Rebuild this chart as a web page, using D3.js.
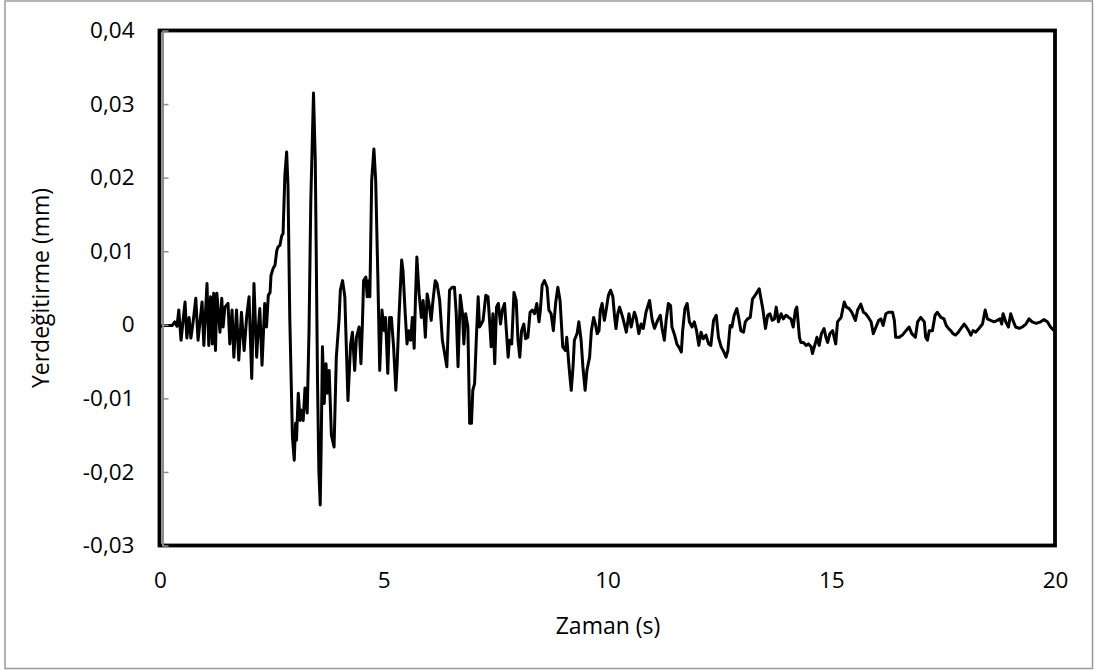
<!DOCTYPE html>
<html>
<head>
<meta charset="utf-8">
<script src="https://cdn.jsdelivr.net/npm/d3@7/dist/d3.min.js"></script>
<style>
  html, body { margin: 0; padding: 0; background: #fff; }
  svg { display: block; }
</style>
</head>
<body>
<svg id="chart" width="1094" height="670"></svg>
<script>
// Time (s)
const zaman = [
  0.00,0.11,0.27,0.33,0.38,0.42,0.47,0.56,0.60,0.65,
  0.69,0.74,0.80,0.85,0.94,0.98,1.05,1.09,1.13,1.17,
  1.20,1.24,1.27,1.34,1.38,1.41,1.45,1.52,1.56,1.61,
  1.65,1.71,1.76,1.82,1.88,1.94,1.99,2.05,2.10,2.16,
  2.19,2.23,2.28,2.34,2.38,2.42,2.46,2.48,2.53,2.57,
  2.61,2.64,2.68,2.72,2.75,2.79,2.83,2.86,2.90,2.96,
  3.00,3.03,3.05,3.09,3.13,3.16,3.20,3.24,3.29,3.33,
  3.37,3.43,3.47,3.52,3.55,3.58,3.60,3.63,3.67,3.71,
  3.74,3.78,3.83,3.89,3.94,4.00,4.03,4.08,4.13,4.20,
  4.26,4.30,4.35,4.39,4.45,4.49,4.52,4.55,4.60,4.63,
  4.66,4.69,4.73,4.78,4.82,4.87,4.91,4.96,5.01,5.04,
  5.09,5.13,5.17,5.22,5.27,5.30,5.34,5.40,5.43,5.48,
  5.52,5.56,5.60,5.64,5.68,5.71,5.74,5.79,5.84,5.88,
  5.93,5.97,6.01,6.06,6.10,6.15,6.19,6.25,6.31,6.36,
  6.41,6.47,6.53,6.58,6.62,6.66,6.71,6.76,6.79,6.83,
  6.88,6.92,6.96,6.99,7.03,7.07,7.11,7.14,7.18,7.22,
  7.28,7.33,7.37,7.40,7.44,7.48,7.52,7.56,7.61,7.65,
  7.70,7.74,7.78,7.81,7.86,7.91,7.96,8.00,8.04,8.08,
  8.13,8.17,8.22,8.27,8.32,8.37,8.42,8.47,8.50,8.54,
  8.59,8.65,8.69,8.74,8.79,8.84,8.89,8.94,9.00,9.06,
  9.09,9.14,9.19,9.23,9.26,9.32,9.36,9.41,9.45,9.50,
  9.54,9.60,9.64,9.69,9.73,9.77,9.81,9.84,9.88,9.93,
  9.97,10.02,10.07,10.12,10.16,10.19,10.23,10.27,10.34,10.42,
  10.48,10.53,10.60,10.64,10.70,10.75,10.80,10.86,10.94,11.00,
  11.05,11.12,11.18,11.22,11.27,11.31,11.36,11.41,11.44,11.50,
  11.55,11.61,11.65,11.68,11.73,11.78,11.83,11.89,11.94,11.99,
  12.04,12.09,12.14,12.20,12.26,12.31,12.37,12.43,12.48,12.54,
  12.60,12.65,12.69,12.74,12.78,12.83,12.89,12.93,12.98,13.04,
  13.08,13.13,13.19,13.24,13.32,13.39,13.43,13.47,13.53,13.58,
  13.63,13.68,13.73,13.77,13.82,13.88,13.93,13.99,14.05,14.10,
  14.15,14.20,14.23,14.29,14.32,14.38,14.44,14.49,14.55,14.58,
  14.64,14.68,14.73,14.78,14.84,14.88,14.92,14.97,15.03,15.10,
  15.14,15.22,15.29,15.34,15.40,15.46,15.54,15.59,15.66,15.72,
  15.77,15.83,15.89,15.94,16.00,16.06,16.11,16.16,16.22,16.28,
  16.37,16.41,16.44,16.52,16.59,16.67,16.74,16.80,16.88,16.93,
  17.00,17.08,17.11,17.15,17.19,17.26,17.32,17.37,17.45,17.52,
  17.57,17.62,17.67,17.72,17.78,17.84,17.90,17.97,18.02,18.07,
  18.12,18.17,18.23,18.30,18.38,18.44,18.49,18.56,18.64,18.71,
  18.77,18.81,18.84,18.90,18.96,19.01,19.06,19.12,19.20,19.27,
  19.35,19.42,19.49,19.58,19.68,19.75,19.83,19.90,19.98
];

// Displacement (mm)
const yerdegistirme = [
  -0.0002,-0.0001,-0.0001,0.0004,-0.0002,0.0020,-0.0021,0.0031,-0.0018,0.0010,
  -0.0018,0.0004,0.0036,-0.0021,0.0031,-0.0028,0.0056,-0.0028,0.0038,-0.0026,
  0.0043,-0.0035,0.0043,-0.0010,0.0036,-0.0003,0.0024,0.0029,-0.0026,0.0020,
  -0.0044,0.0020,-0.0048,0.0017,-0.0035,0.0013,0.0038,-0.0073,0.0056,-0.0044,
  -0.0012,0.0022,-0.0055,0.0029,-0.0003,0.0040,0.0044,0.0067,0.0077,0.0081,
  0.0101,0.0106,0.0108,0.0121,0.0124,0.0203,0.0235,0.0189,0.0010,-0.0153,
  -0.0184,-0.0134,-0.0157,-0.0093,-0.0130,-0.0116,-0.0130,-0.0086,-0.0120,-0.0008,
  0.0169,0.0315,0.0223,-0.0076,-0.0198,-0.0245,-0.0171,-0.0030,-0.0107,-0.0053,
  -0.0093,-0.0062,-0.0150,-0.0166,-0.0044,0.0006,0.0047,0.0060,0.0038,-0.0103,
  -0.0026,-0.0010,-0.0062,-0.0017,-0.0003,-0.0053,-0.0005,0.0060,0.0065,0.0038,
  0.0060,0.0038,0.0196,0.0239,0.0196,0.0060,-0.0062,0.0020,-0.0008,0.0010,
  -0.0066,0.0010,0.0010,-0.0030,-0.0089,-0.0053,0.0010,0.0088,0.0074,0.0015,
  -0.0026,-0.0008,-0.0021,0.0010,-0.0032,0.0038,0.0092,0.0042,0.0010,0.0033,
  -0.0017,0.0042,0.0029,0.0006,0.0033,0.0060,0.0056,0.0033,-0.0021,-0.0039,
  -0.0057,0.0047,0.0051,0.0051,0.0015,-0.0057,0.0040,0.0015,-0.0026,0.0015,
  -0.0003,-0.0134,-0.0134,-0.0089,-0.0080,-0.0017,0.0038,-0.0003,0.0001,0.0006,
  0.0040,0.0038,0.0001,-0.0030,0.0015,-0.0053,0.0024,0.0029,0.0001,0.0020,
  0.0029,-0.0008,-0.0044,-0.0021,-0.0026,0.0044,0.0033,-0.0021,-0.0044,-0.0008,
  0.0001,-0.0019,-0.0017,0.0017,0.0020,0.0015,0.0029,0.0004,0.0020,0.0054,
  0.0060,0.0051,0.0020,0.0015,-0.0008,0.0029,0.0051,0.0033,-0.0030,-0.0035,
  -0.0017,-0.0057,-0.0089,-0.0057,-0.0021,-0.0012,0.0004,-0.0021,-0.0057,-0.0089,
  -0.0062,-0.0044,-0.0008,0.0010,0.0001,-0.0012,-0.0008,0.0020,0.0029,0.0006,
  0.0020,0.0040,0.0047,0.0038,0.0010,-0.0005,0.0015,0.0024,0.0010,-0.0010,
  0.0015,-0.0003,0.0017,0.0010,-0.0012,0.0001,-0.0005,0.0017,0.0033,0.0006,
  -0.0005,0.0006,0.0013,-0.0005,-0.0021,0.0006,0.0029,0.0026,-0.0003,-0.0014,
  -0.0026,-0.0032,-0.0037,-0.0008,0.0022,0.0029,0.0004,-0.0003,0.0004,-0.0008,
  -0.0028,-0.0010,-0.0019,-0.0014,-0.0026,-0.0028,0.0006,0.0013,-0.0017,-0.0030,
  -0.0037,-0.0044,-0.0035,-0.0001,-0.0003,0.0013,0.0022,0.0010,-0.0008,-0.0010,
  0.0004,0.0008,0.0010,0.0035,0.0042,0.0049,0.0035,0.0022,-0.0005,0.0013,
  0.0015,0.0006,0.0008,0.0024,0.0004,0.0015,0.0008,0.0013,0.0010,0.0008,
  -0.0003,0.0020,0.0024,-0.0017,-0.0024,-0.0024,-0.0028,-0.0026,-0.0030,-0.0039,
  -0.0026,-0.0017,-0.0028,-0.0012,-0.0005,-0.0017,-0.0024,-0.0012,-0.0008,-0.0026,
  0.0004,0.0010,0.0031,0.0024,0.0022,0.0017,0.0006,0.0020,0.0028,0.0017,
  0.0015,0.0010,0.0004,-0.0012,-0.0003,0.0006,0.0008,-0.0001,0.0015,0.0017,
  0.0017,0.0006,-0.0017,-0.0017,-0.0014,-0.0008,-0.0003,-0.0012,-0.0017,0.0004,
  0.0010,0.0004,-0.0017,-0.0021,-0.0008,-0.0008,0.0013,0.0017,0.0010,0.0008,
  -0.0001,-0.0005,-0.0008,-0.0012,-0.0014,-0.0010,-0.0005,0.0001,-0.0003,-0.0008,
  -0.0014,-0.0008,-0.0010,-0.0005,0.0001,0.0020,0.0008,0.0006,0.0004,0.0006,
  0.0008,0.0001,0.0015,0.0004,-0.0003,0.0015,0.0006,-0.0003,-0.0005,-0.0003,
  0.0001,0.0008,0.0004,0.0002,0.0004,0.0007,0.0004,-0.0003,-0.0008
];

const xTicks = [0, 5, 10, 15, 20];
const yTicks = [-0.03, -0.02, -0.01, 0, 0.01, 0.02, 0.03, 0.04];
const xTitle = "Zaman (s)";
const yTitle = "Yerdeğitirme (mm)";

const svg = d3.select("#chart");
const FONT = "'Open Sans', 'Noto Sans', sans-serif";

const plot = { left: 160, right: 1055, top: 30.5, bottom: 545.5 };

const x = d3.scaleLinear().domain([0, 20]).range([plot.left, plot.right]);
const y = d3.scaleLinear().domain([-0.03, 0.04]).range([plot.bottom, plot.top]);

// Turkish-style number formatting: decimal comma, hyphen minus
const tr = d3.formatLocale({ decimal: ",", thousands: ".", grouping: [3], currency: ["", " ₺"], minus: "-" });
const fmt2 = tr.format(".2f");
const yFmt = d => (d === 0 ? "0" : fmt2(d));

// Outer chart frame
svg.append("rect")
  .attr("x", 5).attr("y", 1)
  .attr("width", 1087.5).attr("height", 667.5)
  .attr("fill", "#fff")
  .attr("stroke", "#999").attr("stroke-width", 1.5);

// Series
const data = zaman.map((t, i) => [t, yerdegistirme[i]]);
svg.append("path")
  .datum(data)
  .attr("fill", "none")
  .attr("stroke", "#000")
  .attr("stroke-width", 3)
  .attr("stroke-linejoin", "round")
  .attr("d", d3.line().x(d => x(d[0])).y(d => y(d[1])));

// Plot area border
svg.append("rect")
  .attr("x", plot.left - 0.5).attr("y", plot.top)
  .attr("width", plot.right - plot.left + 0.5)
  .attr("height", plot.bottom - plot.top)
  .attr("fill", "none")
  .attr("stroke", "#000").attr("stroke-width", 3.8);

// Y axis: grey line with inward ticks, labels on the left
const yAxis = svg.append("g")
  .attr("transform", `translate(${plot.left + 2.5},0)`)
  .call(d3.axisLeft(y).tickValues(yTicks).tickFormat(yFmt)
    .tickSizeInner(-6).tickSizeOuter(0).tickPadding(28));
yAxis.select(".domain").attr("stroke", "#8c8c8c").attr("stroke-width", 2);
yAxis.selectAll(".tick line").attr("stroke", "#8c8c8c").attr("stroke-width", 1.5);
yAxis.selectAll("text")
  .attr("font-family", FONT).attr("font-size", 22.5).attr("fill", "#000");

// X axis labels
const xAxis = svg.append("g")
  .attr("transform", `translate(0,${plot.bottom})`)
  .call(d3.axisBottom(x).tickValues(xTicks).tickFormat(d => String(d))
    .tickSize(0).tickPadding(27));
xAxis.select(".domain").remove();
xAxis.selectAll("text")
  .attr("font-family", FONT).attr("font-size", 22.5).attr("fill", "#000");

// Axis titles
svg.append("text")
  .attr("x", (plot.left + plot.right) / 2 + 0.5)
  .attr("y", 625)
  .attr("text-anchor", "middle")
  .attr("dominant-baseline", "central")
  .attr("font-family", FONT).attr("font-size", 23).attr("fill", "#000")
  .text(xTitle);

svg.append("text")
  .attr("transform", `translate(40,${(plot.top + plot.bottom) / 2}) rotate(-90)`)
  .attr("text-anchor", "middle")
  .attr("dominant-baseline", "central")
  .attr("font-family", FONT).attr("font-size", 23).attr("fill", "#000")
  .text(yTitle);
</script>
</body>
</html>
